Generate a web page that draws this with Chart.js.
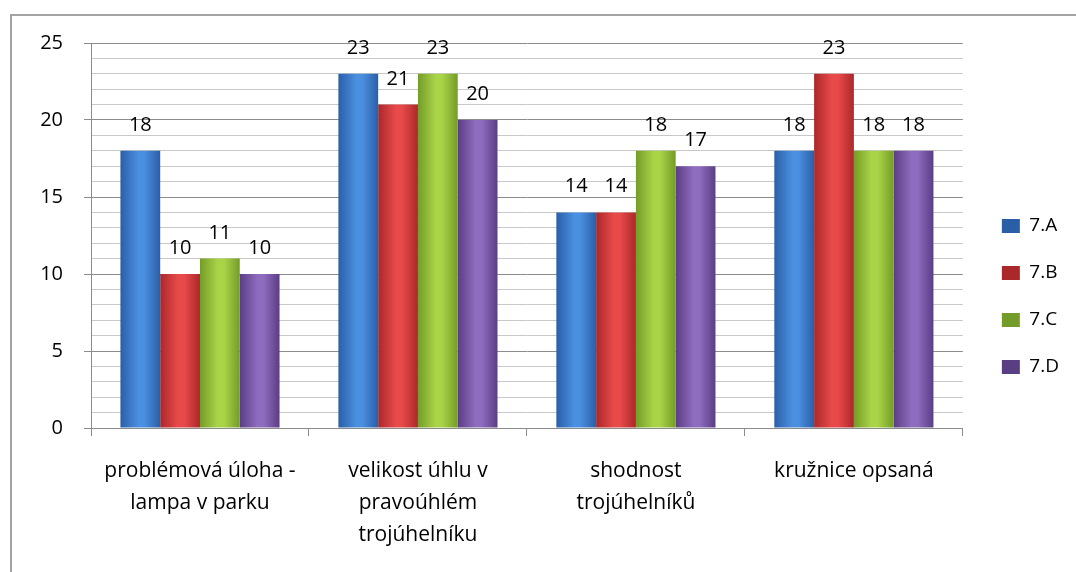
<!DOCTYPE html>
<html lang="cs">
<head>
<meta charset="UTF-8">
<title>Výsledky tříd</title>
<style>
    html, body { margin: 0; padding: 0; background: #fff; }
    #wrap { position: relative; width: 1076px; height: 572px; overflow: hidden; }
    #frame {
        position: absolute; left: 10px; top: 14px;
        width: 1100px; height: 600px;
        border-top: 2px solid #a3a3a3;
        border-left: 2px solid #a3a3a3;
    }
    canvas { position: absolute; left: 0; top: 0; }
</style>
</head>
<body>
<div id="wrap">
    <div id="frame"></div>
    <canvas id="chart" width="1076" height="572"></canvas>
</div>
<script src="https://cdn.jsdelivr.net/npm/chart.js"></script>
<script>
// data
const categories = [
    ['problémová úloha -', 'lampa v parku'],
    ['velikost úhlu v', 'pravoúhlém', 'trojúhelníku'],
    ['shodnost', 'trojúhelníků'],
    ['kružnice opsaná']
];
const classes = ['7.A', '7.B', '7.C', '7.D'];
const scoresA = [18, 23, 14, 18];
const scoresB = [10, 21, 14, 23];
const scoresC = [11, 23, 18, 18];
const scoresD = [10, 20, 17, 18];
const yLabels = [0, 5, 10, 15, 20, 25];

const FONT = '"Open Sans"';
const CAT_PCT = 0.73;

// edge / middle / flat colour of each series
const palette = [
    ['#2a5fa8', '#4b8fe0', '#3b7bcc'],
    ['#ab282a', '#e84a4a', '#d53a3b'],
    ['#749c28', '#aad448', '#93bf38'],
    ['#5a3e84', '#8e6cbf', '#7856a6']
];

// horizontal "glass" shading for each bar, placed from the x scale
function barFill(ctx) {
    const p = palette[ctx.datasetIndex];
    const xs = ctx.chart.scales && ctx.chart.scales.x;
    if (ctx.type !== 'data' || !xs || !xs.width) return p[2];
    const n = ctx.chart.data.datasets.length;
    const catW = xs.width / categories.length;
    const barW = catW * CAT_PCT / n;
    const left = xs.getPixelForValue(ctx.dataIndex) - catW * CAT_PCT / 2 + ctx.datasetIndex * barW;
    const g = ctx.chart.ctx.createLinearGradient(left, 0, left + barW, 0);
    g.addColorStop(0, p[0]);
    g.addColorStop(0.45, p[1]);
    g.addColorStop(0.6, p[1]);
    g.addColorStop(1, p[0]);
    return g;
}

const valueLabels = {
    id: 'valueLabels',
    afterDatasetsDraw(chart) {
        const c = chart.ctx;
        c.save();
        c.font = '20px ' + FONT;
        c.fillStyle = '#000';
        c.textAlign = 'center';
        c.textBaseline = 'alphabetic';
        chart.data.datasets.forEach((ds, i) => {
            chart.getDatasetMeta(i).data.forEach((bar, j) => {
                c.fillText(ds.data[j], bar.x, bar.y - 20);
            });
        });
        c.restore();
    }
};

const series = [scoresA, scoresB, scoresC, scoresD];

new Chart(document.getElementById('chart'), {
    type: 'bar',
    data: {
        labels: categories,
        datasets: series.map((s, i) => ({
            label: classes[i],
            data: s,
            backgroundColor: barFill,
            borderWidth: 0,
            categoryPercentage: CAT_PCT,
            barPercentage: 1
        }))
    },
    options: {
        responsive: false,
        animation: false,
        devicePixelRatio: 1,
        layout: { padding: { left: 10, top: 43, right: 7, bottom: 22 } },
        plugins: {
            legend: {
                position: 'right',
                labels: {
                    boxWidth: 18,
                    boxHeight: 14,
                    padding: 28,
                    color: '#000',
                    font: { family: FONT, size: 19 }
                }
            },
            tooltip: { enabled: false }
        },
        scales: {
            x: {
                grid: { offset: true, drawOnChartArea: false, tickLength: 8, color: '#8c8c8c' },
                border: { color: '#8c8c8c' },
                ticks: {
                    padding: 19, color: '#000', maxRotation: 0, autoSkip: false,
                    font: { family: FONT, size: 21, lineHeight: 1.52 }
                },
                afterFit: s => { s.height = 122; }
            },
            y: {
                min: 0, max: 25,
                ticks: {
                    stepSize: 1, autoSkip: false, padding: 21, color: '#000',
                    font: { family: FONT, size: 20 },
                    callback: v => yLabels.includes(v) ? v : ''
                },
                grid: {
                    tickLength: 7,
                    color: c => yLabels.includes(c.tick.value) ? '#8c8c8c' : '#c8c8c8',
                    tickColor: c => yLabels.includes(c.tick.value) ? '#8c8c8c' : 'rgba(0,0,0,0)'
                },
                border: { color: '#8c8c8c' },
                afterFit: s => { s.width = 81; }
            },
            // empty strip between the plot and the legend
            gap: {
                type: 'linear', axis: 'y', position: 'right',
                grid: { display: false },
                ticks: { display: false },
                border: { display: false },
                afterFit: s => { s.width = 11; }
            }
        }
    },
    plugins: [valueLabels]
});
</script>
</body>
</html>
